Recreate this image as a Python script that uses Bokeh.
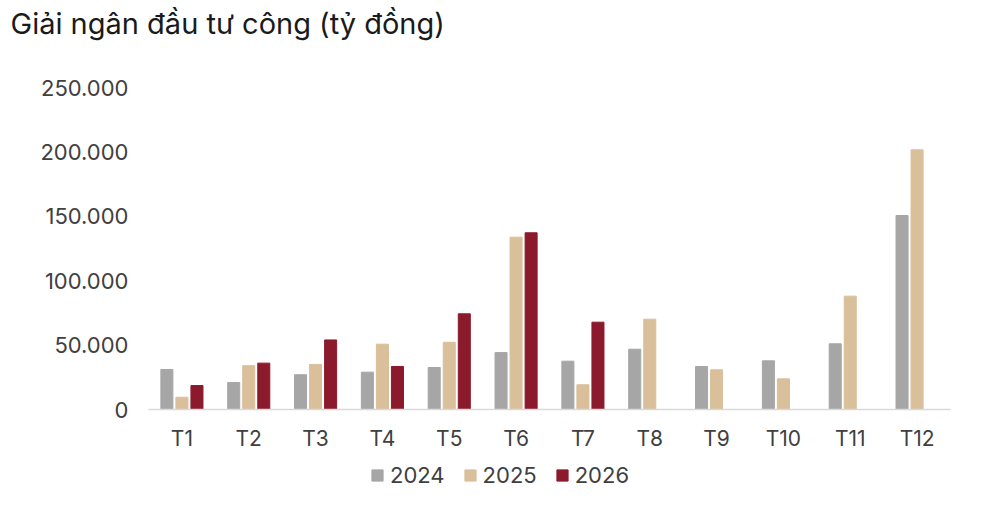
import numpy as np
from bokeh.plotting import figure
from bokeh.layouts import column
from bokeh.models import (ColumnDataSource, FactorRange, Range1d, FixedTicker,
                          CustomJSTickFormatter, Legend, LegendItem)
from bokeh.transform import dodge
from bokeh.embed import file_html
from bokeh.resources import INLINE

months = ["T1", "T2", "T3", "T4", "T5", "T6", "T7", "T8", "T9", "T10", "T11", "T12"]
v2024 = [31000, 21000, 27000, 29000, 32600, 44200, 37500, 46800, 33400, 37800, 51000, 150600]
v2025 = [9500, 34000, 35000, 50700, 52200, 133800, 19200, 70100, 30800, 23800, 88000, 201600]
v2026 = [18600, 36000, 54000, 33400, 74300, 137200, 67800, np.nan, np.nan, np.nan, np.nan, np.nan]
years = ["2024", "2025", "2026"]
y_ticks = [0, 50000, 100000, 150000, 200000, 250000]

src = ColumnDataSource(data=dict(month=months, a=v2024, b=v2025, c=v2026))

FONT = "Inter"
colors = ["#a6a6a6", "#d9bf9a", "#8c1a2d"]

# header strip holding the title
hd = figure(width=990, height=44, x_range=Range1d(0, 1), y_range=Range1d(0, 1),
            output_backend="svg", toolbar_location=None, tools="",
            min_border_top=40, min_border_bottom=0, min_border_left=0,
            min_border_right=0)
hd.axis.visible = False
hd.grid.grid_line_color = None
hd.outline_line_color = None
hd.title.text = "Giải ngân đầu tư công (tỷ đồng)"
hd.title.text_font = FONT
hd.title.text_font_size = "29px"
hd.title.text_font_style = "normal"
hd.title.text_color = "#1a1a1a"
hd.title.offset = -138
hd.title.standoff = 0

p = figure(width=990, height=411, x_range=FactorRange(*months),
           y_range=Range1d(0, 250000), output_backend="svg",
           toolbar_location=None, tools="",
           min_border_left=148, min_border_right=40,
           min_border_top=43, min_border_bottom=46)

p.vbar(x=dodge("month", -0.225, range=p.x_range), top="a", width=0.18,
       source=src, color=colors[0])
p.vbar(x=dodge("month", 0.0, range=p.x_range), top="b", width=0.18,
       source=src, color=colors[1])
p.vbar(x=dodge("month", 0.225, range=p.x_range), top="c", width=0.18,
       source=src, color=colors[2])

p.outline_line_color = None
p.xgrid.grid_line_color = None
p.ygrid.grid_line_color = None

p.yaxis.ticker = FixedTicker(ticks=y_ticks)
p.yaxis.formatter = CustomJSTickFormatter(code="""
    return Math.round(tick).toString().replace(/\\B(?=(\\d{3})+(?!\\d))/g, ".");
""")
p.yaxis.axis_line_color = None
p.yaxis.major_tick_line_color = None
p.yaxis.minor_tick_line_color = None
p.yaxis.major_label_text_font = FONT
p.yaxis.major_label_text_font_size = "22px"
p.yaxis.major_label_text_color = "#404040"
p.yaxis.major_label_standoff = 14

p.xaxis.axis_line_color = "#d9d9d9"
p.xaxis.axis_line_width = 1.5
p.xaxis.major_tick_line_color = None
p.xaxis.minor_tick_line_color = None
p.xaxis.major_label_text_font = FONT
p.xaxis.major_label_text_font_size = "21px"
p.xaxis.major_label_text_color = "#404040"
p.xaxis.major_label_standoff = 10

# legend strip below the chart (swatches come from hidden dummy bars)
lg = figure(width=990, height=50, x_range=Range1d(0, 1), y_range=Range1d(0, 1),
            output_backend="svg", toolbar_location=None, tools="",
            min_border=0)
lg.axis.visible = False
lg.grid.grid_line_color = None
lg.outline_line_color = None
items = []
for yr, c in zip(years, colors):
    r = lg.vbar(x=[-5], top=[-5], bottom=[-6], width=0.1, color=c)
    items.append(LegendItem(label=yr, renderers=[r]))

legend = Legend(items=items, orientation="horizontal", location=(222, 17))
legend.label_text_font = FONT
legend.label_text_font_size = "22px"
legend.label_text_color = "#404040"
legend.glyph_width = 14
legend.glyph_height = 14
legend.label_standoff = 6
legend.spacing = 18
legend.border_line_color = None
legend.background_fill_alpha = 0
legend.padding = 0
legend.margin = 0
lg.add_layout(legend)

layout = column(hd, p, lg, spacing=0)
open("out.html", "w").write(file_html(layout, INLINE))
